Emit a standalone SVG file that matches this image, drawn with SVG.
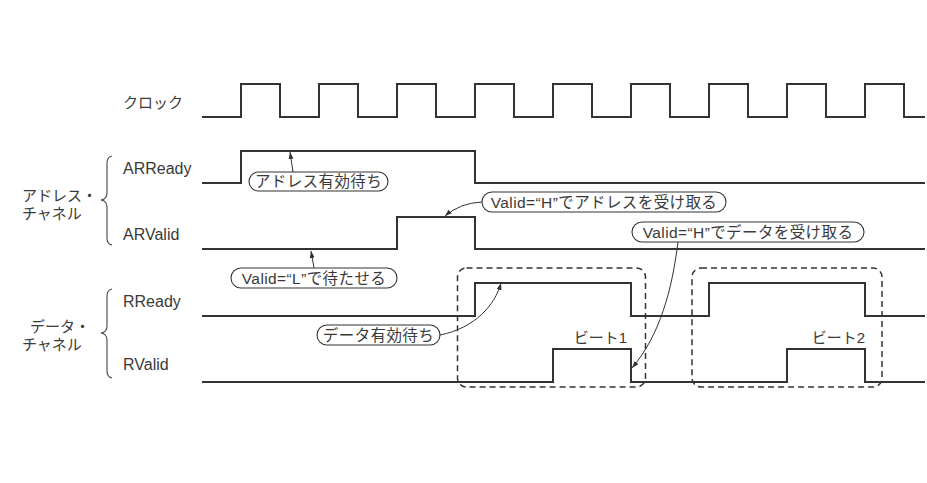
<svg xmlns="http://www.w3.org/2000/svg" width="927" height="483" viewBox="0 0 927 483">
<style>
text{font-family:"Liberation Sans","Noto Sans CJK JP",sans-serif;font-size:15px;fill:#3a3a3a;font-weight:normal}
.lat{font-size:16px}
.pt{font-size:15.5px;letter-spacing:0.4px}
.w{fill:none;stroke:#333;stroke-width:2;stroke-linejoin:miter}
.pill{fill:#fff;stroke:#333;stroke-width:1.1}
.br{fill:none;stroke:#444;stroke-width:1.1}
.box{fill:none;stroke:#333;stroke-width:1.5;stroke-dasharray:6 4}
.c{fill:none;stroke:#333;stroke-width:1;marker-end:url(#ah)}
</style>
<defs>
<marker id="ah" viewBox="0 0 10 10" refX="10" refY="5" markerWidth="7" markerHeight="7" markerUnits="userSpaceOnUse" orient="auto">
<path d="M0,1.5 L10,5 L0,8.5 z" fill="#333"/>
</marker>
</defs>
<rect width="927" height="483" fill="#fff"/>

<g id="clock">
<text x="123" y="108">クロック</text>
<path class="w" d="M202,117 H241 V84 H280 V117 H319 V84 H358 V117 H397 V84 H436 V117 H475 V84 H514 V117 H553 V84 H592 V117 H631 V84 H670 V117 H709 V84 H748 V117 H787 V84 H826 V117 H865 V84 H904 V117 H925"/>
</g>

<g id="address-channel">
<text x="22" y="201">アドレス・</text>
<text x="22" y="219">チャネル</text>
<path class="br" d="M112,156 Q107,157 107,163 V193 Q107,199 101,200 Q107,201 107,207 V238 Q107,244 112,245"/>
</g>

<g id="arready">
<text class="lat" x="123" y="174">ARReady</text>
<path class="w" d="M202,183 H241 V151 H475 V183 H925"/>
</g>

<g id="arvalid">
<text class="lat" x="123" y="240">ARValid</text>
<path class="w" d="M202,249 H397 V217 H475 V249 H925"/>
</g>

<g id="data-channel">
<text x="30" y="332">データ・</text>
<text x="22" y="350">チャネル</text>
<path class="br" d="M112,289 Q107,290 107,296 V326 Q107,332 101,333 Q107,334 107,340 V371 Q107,377 112,378"/>
</g>

<g id="rready">
<text class="lat" x="123" y="307">RReady</text>
<path class="w" d="M202,316 H475 V283 H631 V316 H709 V283 H865 V316 H925"/>
</g>

<g id="rvalid">
<text class="lat" x="123" y="370">RValid</text>
<path class="w" d="M202,382 H553 V349 H631 V382 H787 V349 H865 V382 H925"/>
</g>

<g id="beat1">
<rect class="box" x="457.5" y="268" width="188" height="119" rx="9"/>
<text x="627" y="343" text-anchor="end">ビート1</text>
</g>

<g id="beat2">
<rect class="box" x="692" y="268" width="190" height="119" rx="9"/>
<text x="865" y="343" text-anchor="end">ビート2</text>
</g>

<g id="connectors">
<path class="c" d="M293,172 L290,152"/>
<path class="c" d="M482,202 Q460,203 445,216"/>
<path class="c" d="M314,268 L311,251"/>
<path class="c" d="M678,242 C672,290 660,335 632,368"/>
<path class="c" d="M440,335 C475,328 495,305 501,283"/>
</g>

<g id="note-address-wait">
<rect class="pill" x="249" y="172" width="139" height="19" rx="9.5"/>
<text class="pt" x="318.5" y="187" text-anchor="middle">アドレス有効待ち</text>
</g>

<g id="note-address-accept">
<rect class="pill" x="482" y="192" width="244" height="20" rx="10"/>
<text class="pt" x="604" y="207.5" text-anchor="middle">Valid=“H”でアドレスを受け取る</text>
</g>

<g id="note-valid-low">
<rect class="pill" x="231" y="268" width="166" height="20" rx="10"/>
<text class="pt" x="314" y="283.5" text-anchor="middle">Valid=“L”で待たせる</text>
</g>

<g id="note-data-accept">
<rect class="pill" x="632" y="222" width="232" height="20" rx="10"/>
<text class="pt" x="748" y="237.5" text-anchor="middle">Valid=“H”でデータを受け取る</text>
</g>

<g id="note-data-wait">
<rect class="pill" x="317" y="325" width="123" height="20" rx="10"/>
<text class="pt" x="378.5" y="340.5" text-anchor="middle">データ有効待ち</text>
</g>
</svg>
